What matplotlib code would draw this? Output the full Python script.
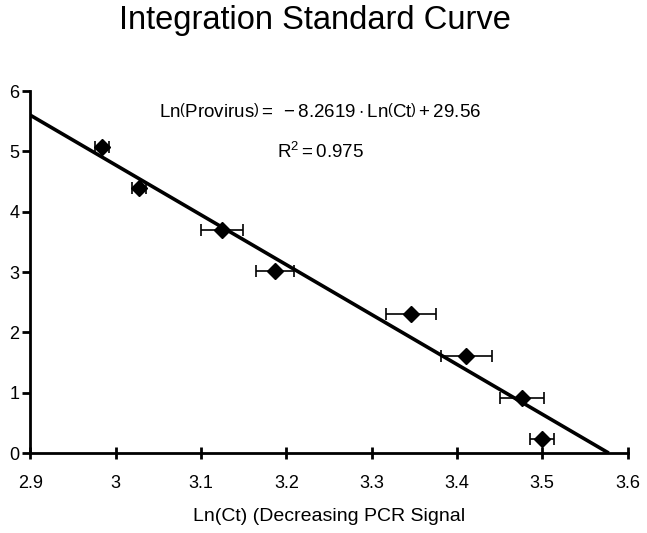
import matplotlib
matplotlib.use("Agg")
import matplotlib.pyplot as plt
import numpy as np

plt.rcParams['font.family'] = ['Liberation Sans', 'DejaVu Sans']
plt.rcParams['mathtext.fontset'] = 'custom'
plt.rcParams['mathtext.rm'] = 'Liberation Sans'
plt.rcParams['mathtext.it'] = 'Liberation Sans:italic'
plt.rcParams['mathtext.bf'] = 'Liberation Sans:bold'

# Data
ln_ct = [2.984, 3.027, 3.1245, 3.187, 3.346, 3.411, 3.476, 3.500]
ln_provirus = [5.07, 4.39, 3.70, 3.02, 2.31, 1.61, 0.92, 0.23]
x_err = [0.008, 0.008, 0.025, 0.022, 0.029, 0.030, 0.026, 0.014]
slope = -8.2619
intercept = 29.56
r2 = 0.975
x_ticks = [2.9, 3.0, 3.1, 3.2, 3.3, 3.4, 3.5, 3.6]
x_tick_labels = ['2.9', '3', '3.1', '3.2', '3.3', '3.4', '3.5', '3.6']
y_ticks = [0, 1, 2, 3, 4, 5, 6]

fig = plt.figure(figsize=(6.47, 5.33), dpi=100)
ax = fig.add_axes([0.047, 0.150, 0.923, 0.679])

# Fit line from x=2.9 to x-intercept
x_end = -intercept / slope
xl = np.array([2.9, x_end])
ax.plot(xl, slope * xl + intercept, color='black', lw=2.6, solid_capstyle='butt', zorder=2)

ax.errorbar(ln_ct, ln_provirus, xerr=x_err, fmt='D', color='black', ms=8.5,
            ecolor='black', elinewidth=1.2, capsize=4, capthick=1.2, zorder=3)

ax.set_xlim(2.9, 3.6)
ax.set_ylim(0, 6)
ax.set_xticks(x_ticks)
ax.set_xticklabels(x_tick_labels)
ax.set_yticks(y_ticks)
ax.spines['top'].set_visible(False)
ax.spines['right'].set_visible(False)
ax.spines['left'].set_linewidth(2)
ax.spines['bottom'].set_linewidth(2)
ax.tick_params(axis='x', direction='inout', length=9, width=2, labelsize=13, pad=11)
ax.tick_params(axis='y', direction='out', length=6, width=2, labelsize=13, pad=2)

ax.set_xlabel('Ln(Ct) (Decreasing PCR Signal', fontsize=14, labelpad=12)
fig.text(0.486, 0.990, 'Integration Standard Curve', ha='center', va='top', fontsize=23.5)

eq = (r'$\mathrm{Ln}\left(\mathrm{Provirus}\right)=\ -8.2619\cdot\mathrm{Ln}\left(\mathrm{Ct}\right)+29.56$')
ax.text(0.485, 0.942, eq, transform=ax.transAxes, ha='center', va='center', fontsize=13.5)
ax.text(0.485, 0.831, r'$\mathrm{R}^{2}=0.975$', transform=ax.transAxes,
        ha='center', va='center', fontsize=13.5)

fig.savefig('out.png', dpi=100)
